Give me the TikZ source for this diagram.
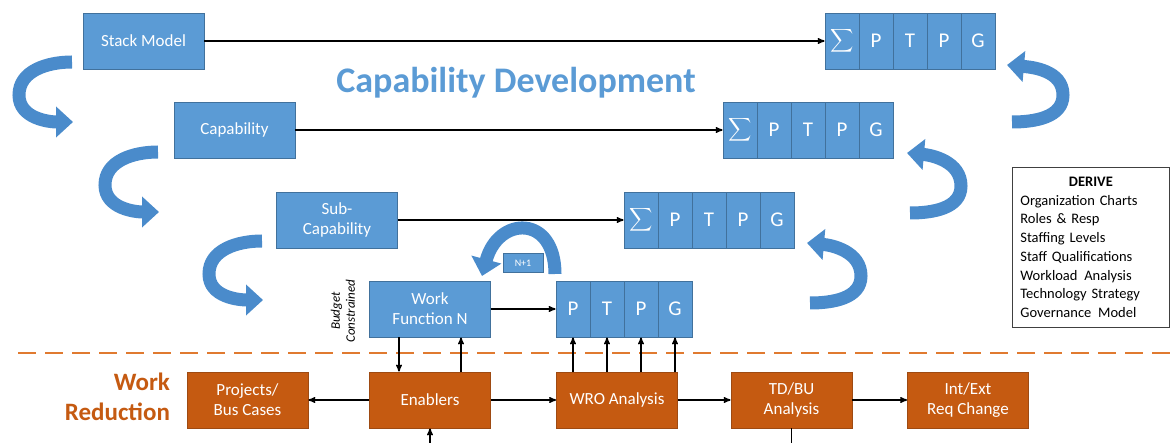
\documentclass[tikz,border=0pt]{standalone}
\usepackage{amsmath}
\usepackage{fontspec}
\setmainfont{Carlito}
\usetikzlibrary{positioning,arrows,arrows.meta}

\definecolor{boxblue}{HTML}{5B9BD5}
\definecolor{edgeblue}{HTML}{41719C}
\definecolor{swoopblue}{HTML}{4A8BCB}
\definecolor{boxrust}{HTML}{C55A11}
\definecolor{edgerust}{HTML}{9E4A12}
\definecolor{cutorange}{HTML}{E07A30}

\begin{document}
\begin{tikzpicture}[->,>=stealth',line width=1.4pt,x=1pt,y=1pt,node distance=34pt,
    bluebox/.style={shape=rectangle,fill=boxblue,draw=edgeblue,line width=0.8pt,text=white,
                    minimum width=121pt,minimum height=56pt,align=center,inner sep=2pt,
                    font=\fontsize{17}{20}\selectfont},
    rustbox/.style={bluebox,fill=boxrust,draw=edgerust},
    cell/.style={bluebox,minimum width=34pt,font=\fontsize{21}{24}\selectfont},
    swoop/.style={-{Triangle[width=30pt,length=17pt]},line width=13pt,draw=swoopblue}]

  \useasboundingbox (0,0) rectangle (1171,-443);

  % capability stack
  \node[bluebox] (stack) at (143.5,-41) {Stack Model};
  \node[cell] (s1) at (842,-41) {\scalebox{0.78}{$\displaystyle\sum$}};
  \node[cell] (s2) [right of=s1] {P};
  \node[cell] (s3) [right of=s2] {T};
  \node[cell] (s4) [right of=s3] {P};
  \node[cell] (s5) [right of=s4] {G};

  \node[font=\fontsize{36}{40}\selectfont\bfseries,text=boxblue] (title) at (516,-83) {Capability Development};

  \node[bluebox] (capab) at (234.5,-130) {Capability};
  \node[cell] (c1) at (740,-130) {\scalebox{0.78}{$\displaystyle\sum$}};
  \node[cell] (c2) [right of=c1] {P};
  \node[cell] (c3) [right of=c2] {T};
  \node[cell] (c4) [right of=c3] {P};
  \node[cell] (c5) [right of=c4] {G};

  \node[bluebox] (subcap) at (337,-220) {Sub-\\Capability};
  \node[cell] (u1) at (641,-220) {\scalebox{0.78}{$\displaystyle\sum$}};
  \node[cell] (u2) [right of=u1] {P};
  \node[cell] (u3) [right of=u2] {T};
  \node[cell] (u4) [right of=u3] {P};
  \node[cell] (u5) [right of=u4] {G};

  \draw[swoop] (555,-274) .. controls (555,-214) and (498,-216) .. (482,-276);
  \node[bluebox,minimum width=40pt,minimum height=19pt,font=\fontsize{10}{12}\selectfont] (nplus) at (523,-263) {N+1};

  \node[bluebox] (work) at (430,-309) {Work\\Function N};
  \node[cell] (w1) at (573,-309) {P};
  \node[cell] (w2) [right of=w1] {T};
  \node[cell] (w3) [right of=w2] {P};
  \node[cell] (w4) [right of=w3] {G};
  \node[rotate=90,align=center,font=\fontsize{13}{15}\selectfont\itshape] (budget) at (343,-311) {Budget\\Constrained};

  \path (stack) edge (s1)
        (capab) edge (c1)
        (subcap) edge (u1)
        (work) edge (w1);

  % block arrows between the levels
  \draw[swoop] (72,-62) to[out=180,in=90] (19,-95) to[out=-90,in=180] (73,-122);
  \draw[swoop] (158,-152) to[out=180,in=90] (105,-185) to[out=-90,in=180] (159,-212);
  \draw[swoop] (262,-241) to[out=180,in=90] (209,-274) to[out=-90,in=180] (263,-300);
  \draw[swoop] (1012,-122) to[out=0,in=-90] (1063,-95) to[out=90,in=-5] (1007,-65);
  \draw[swoop] (910,-213) to[out=0,in=-90] (961,-186) to[out=90,in=-5] (907,-153);
  \draw[swoop] (810,-303) to[out=0,in=-90] (861,-276) to[out=90,in=-5] (807,-243);

  \node[draw=black!75,line width=0.8pt,anchor=north west,minimum width=157pt,minimum height=160pt,
        text width=141pt,align=left,inner xsep=8pt,font=\fontsize{14.5}{18.7}\selectfont] (derive) at (1012,-167)
        {\hfill\textbf{DERIVE}\hfill\null\\Organization Charts\\Roles \& Resp\\Staffing Levels\\
         Staff Qualifications\\Workload\hspace{2pt} Analysis\\Technology Strategy\\Governance\hspace{2pt} Model};

  % work reduction
  \coordinate (cutL) at (18,-353);
  \coordinate (cutR) at (1171,-353);
  \draw[-,cutorange,line width=2pt,dash pattern=on 18pt off 9pt] (cutL) -- (cutR);

  \node[anchor=east,align=right,text=boxrust,font=\fontsize{25}{30}\selectfont\bfseries] (wr) at (174,-397) {Work\\Reduction};
  \node[rustbox] (proj) at (247.5,-400) {Projects/\\Bus Cases};
  \node[rustbox] (enab) at (430,-400) {Enablers};
  \node[rustbox] (wro) at (617,-400) {WRO Analysis};
  \node[rustbox] (tdbu) at (791.5,-400) {TD/BU\\Analysis};
  \node[rustbox] (intext) at (968,-400) {Int/Ext\\Req Change};
  \coordinate (feed) at (430,-443);
  \coordinate (drain) at (791.5,-443);

  \path (enab) edge (proj)
        (enab) edge (wro)
        (wro) edge (tdbu)
        (tdbu) edge (intext)
        (feed) edge (enab)
        ([xshift=-31pt]work.south) edge ([xshift=-31pt]enab.north)
        ([xshift=31pt]enab.north) edge ([xshift=31pt]work.south)
        (w1 |- wro.north) edge (w1)
        (w2 |- wro.north) edge (w2)
        (w3 |- wro.north) edge (w3)
        (w4 |- wro.north) edge (w4);
  \draw[-] (tdbu) -- (drain);
\end{tikzpicture}
\end{document}
